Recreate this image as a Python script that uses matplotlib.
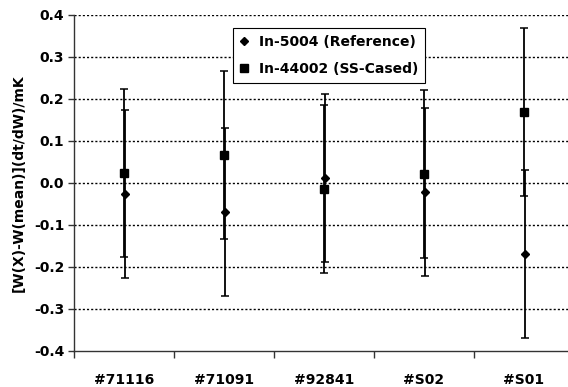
import numpy as np
import matplotlib
matplotlib.use("Agg")
import matplotlib.pyplot as plt
from matplotlib.lines import Line2D
from matplotlib.transforms import ScaledTranslation

# data
samples = ["#71116", "#71091", "#92841", "#S02", "#S01"]
ref_vals = [-0.027, -0.068, 0.013, -0.022, -0.170]     # In-5004 (Reference)
cased_vals = [0.025, 0.066, -0.015, 0.021, 0.169]      # In-44002 (SS-Cased)
ref_err = [0.200, 0.200, 0.200, 0.200, 0.200]
cased_err = [0.200, 0.200, 0.200, 0.200, 0.200]
ref_name = 'In-5004 (Reference)'
cased_name = 'In-44002 (SS-Cased)'

plt.rcParams['font.family'] = ['DejaVu Sans']
plt.rcParams['font.weight'] = 'bold'
plt.rcParams['axes.unicode_minus'] = False

fig = plt.figure(figsize=(5.68, 3.87), dpi=100)
ax = fig.add_axes([74 / 568, 36 / 387, 500 / 568, 336 / 387])

x = np.arange(1, len(samples) + 1)

# small shift so overlapping bars look thicker, as in the original
shift = ax.transData + ScaledTranslation(0.6 / 72, 0, fig.dpi_scale_trans)

ax.errorbar(x, ref_vals, yerr=ref_err, fmt='D', color='black', ms=4.5,
            ecolor='black', elinewidth=1.3, capsize=3, capthick=1.1,
            zorder=3, transform=shift)
ax.errorbar(x, cased_vals, yerr=cased_err, fmt='s', color='black', ms=6,
            ecolor='black', elinewidth=1.3, capsize=3, capthick=1.1,
            zorder=3)

ax.set_xlim(0.5, len(samples) + 0.5)
ax.set_ylim(-0.4, 0.4)
yt = np.round(np.arange(-0.4, 0.41, 0.1), 1)
ax.set_yticks(yt)
ax.set_yticklabels(['%.1f' % (v + 0.0) for v in yt], fontsize=10, fontweight='bold')

# category boundaries as ticks, names centred between them
ax.set_xticks(np.arange(0.5, len(samples) + 1, 1.0))
ax.set_xticklabels([])
ax.set_xticks(x, minor=True)
ax.set_xticklabels(samples, minor=True, fontsize=10, fontweight='bold')
ax.tick_params(axis='x', which='major', direction='out', length=5, width=1, color='#333333')
ax.tick_params(axis='x', which='minor', length=0, pad=16)
ax.tick_params(axis='y', direction='out', length=4, width=1, color='#333333', pad=3)

for v in yt[1:]:
    ax.axhline(v, color='black', lw=1.0, ls=(0, (1.5, 1.5)), zorder=1)

for s in ['top', 'right']:
    ax.spines[s].set_visible(False)
for s in ['left', 'bottom']:
    ax.spines[s].set_color('#333333')
    ax.spines[s].set_linewidth(1.0)

ax.set_ylabel('[W(X)-W(mean)](dt/dW)/mK', fontsize=10, fontweight='bold', labelpad=6)

handles = [Line2D([], [], ls='none', marker='D', ms=4, color='black'),
           Line2D([], [], ls='none', marker='s', ms=5.5, color='black')]
leg = ax.legend(handles, [ref_name, cased_name], loc='upper left',
                bbox_to_anchor=(0.318, 0.961), frameon=True,
                fancybox=False, edgecolor='black', framealpha=1,
                prop={'size': 10, 'weight': 'bold'}, handlelength=0.6,
                handletextpad=0.75, borderpad=0.5, labelspacing=0.95,
                borderaxespad=0)
leg.get_frame().set_linewidth(0.8)

fig.savefig('out.png', dpi=100)
